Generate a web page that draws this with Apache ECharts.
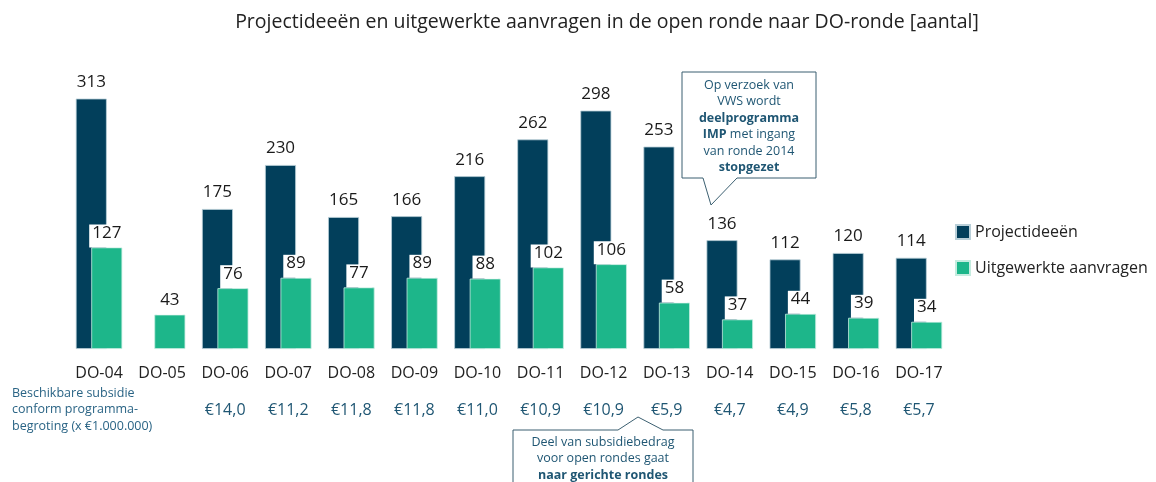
<!DOCTYPE html>
<html><head><meta charset="utf-8">
<script src="https://cdn.jsdelivr.net/npm/echarts@6/dist/echarts.min.js"></script>
<style>html,body{margin:0;padding:0;background:#fff}#c{width:1156px;height:482px}</style>
</head><body><div id="c"></div>
<script>
const categories = ['DO-04','DO-05','DO-06','DO-07','DO-08','DO-09','DO-10','DO-11','DO-12','DO-13','DO-14','DO-15','DO-16','DO-17'];
const projectideeen = [313, null, 175, 230, 165, 166, 216, 262, 298, 253, 136, 112, 120, 114];
const aanvragen = [127, 43, 76, 89, 77, 89, 88, 102, 106, 58, 37, 44, 39, 34];
const subsidie = ['', '', '€14,0', '€11,2', '€11,8', '€11,8', '€11,0', '€10,9', '€10,9', '€5,9', '€4,7', '€4,9', '€5,8', '€5,7'];

const FONT = 'Open Sans';
const DARK = '#023f5b';
const GREEN = '#1db68a';
const TEAL = '#1f5673';

const chart = echarts.init(document.getElementById('c'));
chart.setOption({
  animation: false,
  textStyle: { fontFamily: FONT },
  grid: { left: 67.5, right: 205.5, top: 29, bottom: 133, containLabel: false },
  legend: {
    orient: 'vertical', left: 950, top: 219, itemWidth: 14, itemHeight: 14, itemGap: 20,
    icon: 'rect',
    textStyle: { fontFamily: FONT, fontSize: 16, color: '#222' },
    data: ['Projectideeën', 'Uitgewerkte aanvragen']
  },
  xAxis: {
    type: 'category', data: categories,
    axisLine: { show: false }, axisTick: { show: false },
    axisLabel: {
      margin: 15, interval: 0,
      formatter: (v, i) => '{a|' + v + '}\n{b|' + (subsidie[i] || ' ') + '}',
      rich: {
        a: { fontFamily: FONT, fontSize: 16, color: '#222', lineHeight: 18 },
        b: { fontFamily: FONT, fontSize: 16, color: TEAL, lineHeight: 56 }
      }
    }
  },
  yAxis: { type: 'value', min: 0, max: 400, show: false, splitLine: { show: false } },
  series: [
    {
      name: 'Projectideeën', type: 'bar', data: projectideeen,
      barWidth: 31, barGap: '-50%',
      itemStyle: { color: DARK, borderColor: '#b9cfd8', borderWidth: 0.8 },
      label: { show: true, position: 'top', distance: 8, fontFamily: FONT, fontSize: 17, lineHeight: 17, color: '#1a1a1a' }
    },
    {
      name: 'Uitgewerkte aanvragen', type: 'bar', data: aanvragen,
      barWidth: 31,
      itemStyle: { color: GREEN, borderColor: '#c4ecdf', borderWidth: 0.8 },
      label: { show: true, position: 'top', distance: 0, fontFamily: FONT, fontSize: 17, lineHeight: 17, color: '#1a1a1a',
        backgroundColor: '#fff', padding: [0, 3, 6, 3] }
    }
  ],
  graphic: [
    { type: 'text', x: 607, y: 22, style: { text: 'Projectideeën en uitgewerkte aanvragen in de open ronde naar DO-ronde [aantal]',
      fontFamily: FONT, fontSize: 19.5, fill: '#222', textAlign: 'center', textVerticalAlign: 'middle' } },
    { type: 'text', x: 12, y: 385, style: { text: 'Beschikbare subsidie\nconform programma-\nbegroting (x €1.000.000)',
      fontFamily: FONT, fontSize: 12.5, lineHeight: 16.5, fill: '#2a6485' } },
    { type: 'polygon', shape: { points: [[682,72],[816,72],[816,178],[737,178],[711,205],[703,178],[682,178]] },
      style: { fill: '#fff', stroke: '#3b5f70', lineWidth: 1 }, z: 100 },
    { type: 'text', x: 749, y: 77, z: 101, style: {
      text: 'Op verzoek van\nVWS wordt\n{b|deelprogramma}\n{b|IMP} met ingang\nvan ronde 2014\n{b|stopgezet}',
      fontFamily: FONT, fontSize: 12.5, lineHeight: 16.5, fill: TEAL, textAlign: 'center',
      rich: { b: { fontFamily: FONT, fontSize: 12.5, fontWeight: 'bold', lineHeight: 16.5, fill: TEAL } } } },
    { type: 'polygon', shape: { points: [[513,430],[618,430],[638,417],[663,430],[693,430],[693,492],[513,492]] },
      style: { fill: '#fff', stroke: '#3b5f70', lineWidth: 1 }, z: 100 },
    { type: 'text', x: 603, y: 434, z: 101, style: {
      text: 'Deel van subsidiebedrag\nvoor open rondes gaat\n{b|naar gerichte rondes}',
      fontFamily: FONT, fontSize: 12.5, lineHeight: 16.5, fill: TEAL, textAlign: 'center',
      rich: { b: { fontFamily: FONT, fontSize: 12.5, fontWeight: 'bold', lineHeight: 16.5, fill: TEAL } } } }
  ]
});
</script></body></html>
